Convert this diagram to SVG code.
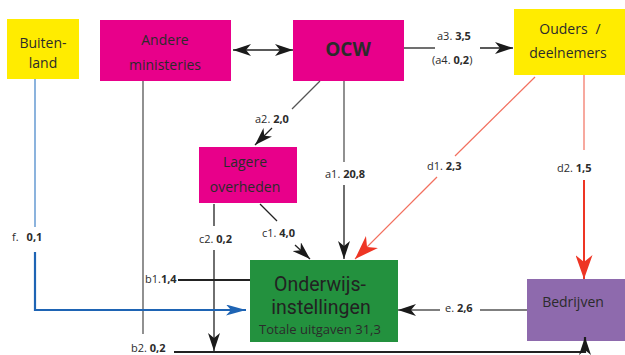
<svg xmlns="http://www.w3.org/2000/svg" width="625" height="355" viewBox="0 0 625 355">
<style>
text{font-family:"Open Sans","Noto Sans","Liberation Sans",sans-serif;fill:#2b2b2b}
.nl{font-size:14px;text-anchor:middle}
.big{font-family:Roboto,"Open Sans",sans-serif;font-size:19.5px;text-anchor:middle;fill:#222}
.el{font-size:11px}
.el tspan.b{font-weight:bold}
.blk{stroke:#222;stroke-width:1.3;fill:none}
.gry{stroke:#555;stroke-width:1.3;fill:none}
.red{stroke:#F2705F;stroke-width:1.2;fill:none}
.redb{stroke:#EE3524;stroke-width:2;fill:none}
.blu{stroke:#5B93CF;stroke-width:1.4;fill:none}
.blub{stroke:#1E64B4;stroke-width:2.2;fill:none}
</style>
<defs>
<marker id="ab" viewBox="0 0 18 12" refX="18" refY="6" markerWidth="18" markerHeight="12" markerUnits="userSpaceOnUse" orient="auto-start-reverse"><path d="M0,0 L18,6 L0,12 L5,6 z" fill="#1a1a1a"/></marker>
<marker id="ar" viewBox="0 0 24 17" refX="24" refY="8.5" markerWidth="24" markerHeight="17" markerUnits="userSpaceOnUse" orient="auto"><path d="M0,0 L24,8.5 L0,17 L7,8.5 z" fill="#EE3524"/></marker>
<marker id="au" viewBox="0 0 20 11" refX="20" refY="5.5" markerWidth="20" markerHeight="11" markerUnits="userSpaceOnUse" orient="auto"><path d="M0,0 L20,5.5 L0,11 L5,5.5 z" fill="#1E64B4"/></marker>
</defs>

<g id="buitenland"><rect x="7" y="19" width="72" height="60" fill="#FFEC00"/><text class="nl" x="43" y="48">Buiten-</text><text class="nl" x="43" y="68">land</text></g>
<g id="andere"><rect x="100" y="20" width="131" height="61" fill="#E8008A"/><text class="nl" x="165" y="45">Andere</text><text class="nl" x="165" y="70">ministeries</text></g>
<g id="ocw"><rect x="293" y="20" width="111" height="61" fill="#E8008A"/><text x="348" y="56" style="font-size:19px;font-weight:bold;text-anchor:middle">OCW</text></g>
<g id="ouders"><rect x="514" y="9" width="111" height="66" fill="#FFEC00"/><text class="nl" x="570" y="34">Ouders<tspan dx="8">/</tspan></text><text class="nl" x="568" y="58">deelnemers</text></g>
<g id="lagere"><rect x="199" y="147" width="98" height="56" fill="#E8008A"/><text class="nl" x="245" y="167">Lagere</text><text class="nl" x="245" y="192">overheden</text></g>
<g id="onderwijs"><rect x="250" y="260" width="148" height="82" fill="#23913E"/><text class="big" x="320" y="291">Onderwijs-</text><text class="big" x="321" y="314">instellingen</text><text x="320" y="334" style="font-size:13px;text-anchor:middle">Totale uitgaven 31,3</text></g>
<g id="bedrijven"><rect x="527" y="279" width="98" height="62" fill="#8E6AAD"/><text class="nl" x="573" y="307">Bedrijven</text></g>

<g id="connectors">
<line class="blk" x1="233" y1="50" x2="293" y2="50" marker-start="url(#ab)" marker-end="url(#ab)"/>
<line class="blk" x1="404" y1="48" x2="435" y2="48"/>
<line class="blk" x1="480" y1="48" x2="513" y2="48" marker-end="url(#ab)"/>
<line class="gry" x1="320" y1="81" x2="292" y2="109"/>
<line class="blk" x1="272" y1="128" x2="255" y2="145" marker-end="url(#ab)"/>
<line class="gry" x1="344" y1="81" x2="344" y2="162"/>
<line class="blk" x1="344" y1="185" x2="344" y2="259" marker-end="url(#ab)"/>
<line class="red" x1="535" y1="77" x2="455" y2="156"/>
<line class="red" x1="437" y1="177" x2="355" y2="259" marker-end="url(#ar)"/>
<line class="red" x1="584" y1="75" x2="584" y2="150"/>
<line class="redb" x1="584" y1="180" x2="584" y2="279" marker-end="url(#ar)"/>
<line class="gry" x1="527" y1="310" x2="480" y2="310"/>
<line class="gry" x1="440" y1="310" x2="398" y2="310" marker-end="url(#ab)"/>
<line class="gry" x1="143" y1="81" x2="143" y2="334"/>
<path style="stroke:#222;stroke-width:2.2;fill:none" d="M174,352 H585 V337" marker-end="url(#ab)"/>
<line style="stroke:#222;stroke-width:2" x1="178" y1="280" x2="250" y2="280"/>
<line class="blk" x1="214" y1="204" x2="214" y2="226"/>
<line class="blk" x1="214" y1="250" x2="214" y2="351" marker-end="url(#ab)"/>
<line class="blk" x1="260" y1="204" x2="277" y2="221"/>
<line class="blk" x1="295" y1="245" x2="310" y2="259" marker-end="url(#ab)"/>
<line class="blu" x1="35" y1="79" x2="35" y2="227"/>
<path class="blub" d="M35,252 V310 H246" marker-end="url(#au)"/>
</g>

<g id="labels">
<text class="el" x="255" y="123">a2. <tspan class="b">2,0</tspan></text>
<text class="el" x="437" y="40">a3. <tspan class="b">3,5</tspan></text>
<text class="el" x="432" y="64">(a4. <tspan class="b">0,2</tspan>)</text>
<text class="el" x="325" y="178">a1. <tspan class="b">20,8</tspan></text>
<text class="el" x="427" y="170">d1. <tspan class="b">2,3</tspan></text>
<text class="el" x="557" y="172">d2. <tspan class="b">1,5</tspan></text>
<text class="el" x="199" y="243">c2. <tspan class="b">0,2</tspan></text>
<text class="el" x="262" y="237">c1. <tspan class="b">4,0</tspan></text>
<text class="el" x="12" y="241">f.<tspan class="b" dx="8">0,1</tspan></text>
<text class="el" x="145" y="283">b1.<tspan class="b">1,4</tspan></text>
<text class="el" x="131" y="352">b2. <tspan class="b">0,2</tspan></text>
<text class="el" x="445" y="312">e. <tspan class="b">2,6</tspan></text>
</g>
</svg>
